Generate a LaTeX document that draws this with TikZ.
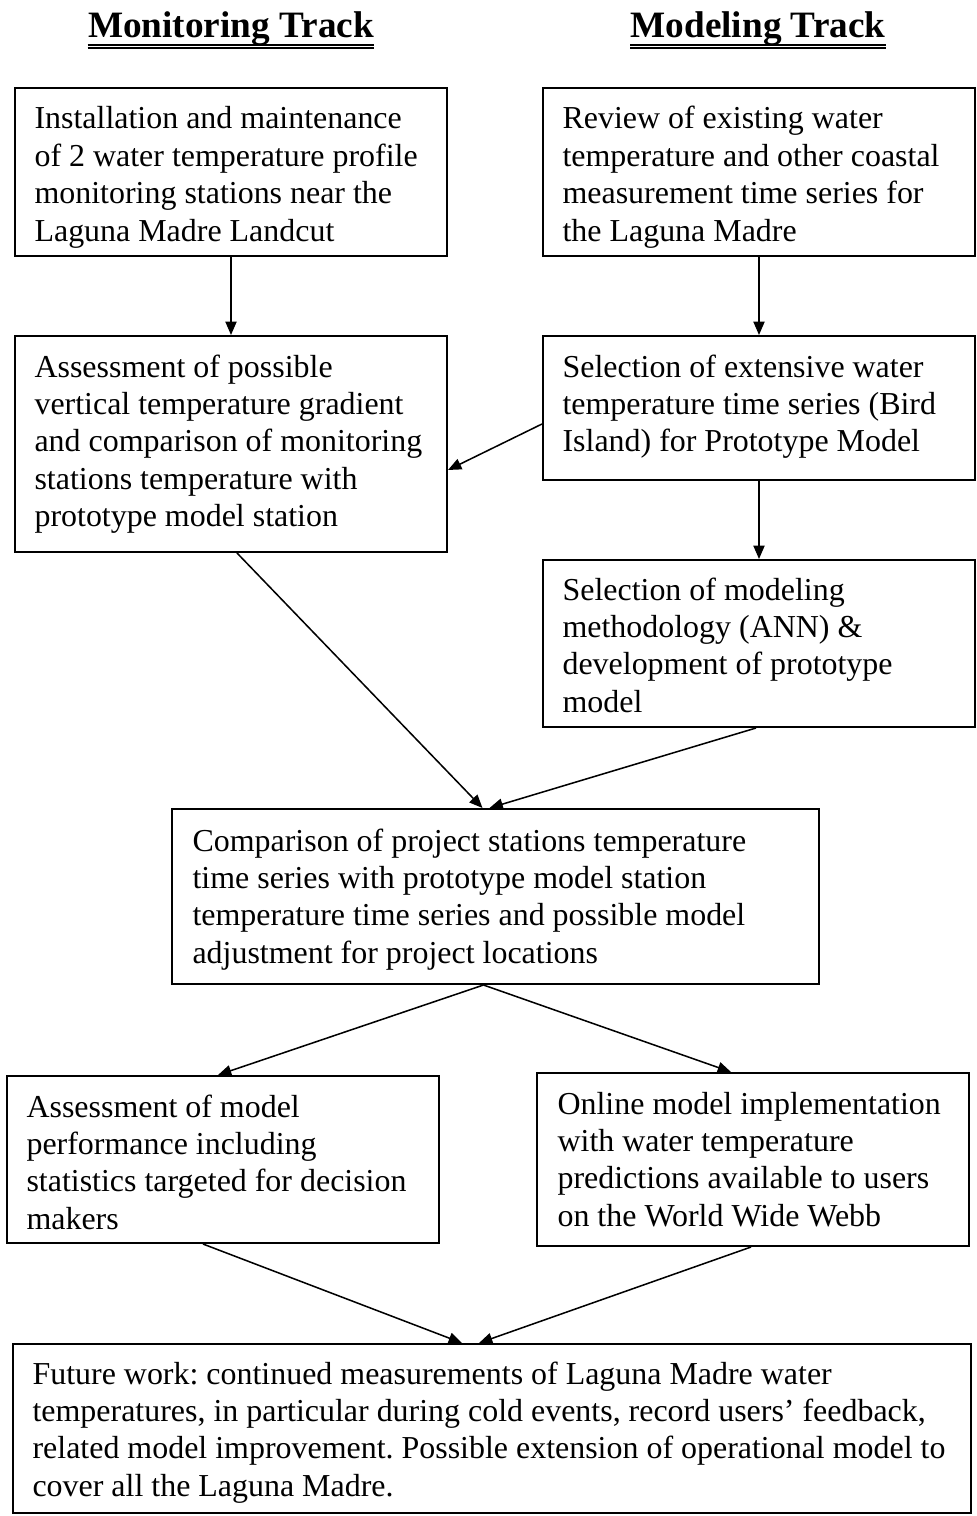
\documentclass[tikz,border=0pt]{standalone}
\usepackage{fontspec}
\setmainfont{Liberation Serif}
\usetikzlibrary{arrows.meta,calc,fit}
\frenchspacing
\newcommand\boxlines[1]{\begin{tabular}[t]{@{}l@{}}#1\end{tabular}}
\begin{document}
\begin{tikzpicture}[x=0.36pt,y=-0.36pt,
  box/.style={draw, line width=0.72pt, inner sep=0pt, rectangle},
  txt/.style={inner sep=0pt, anchor=base west, font=\fontsize{11.5}{13.45}\selectfont},
  arr/.style={line width=0.55pt, -{Triangle[length=4.8pt,width=4pt]}},
  ttl/.style={inner sep=0pt, anchor=base, font=\fontsize{13.4}{16}\selectfont\bfseries},
  uline/.style={line width=0.6pt}]
\useasboundingbox (0,0) rectangle (976,1516);

% titles
\node[ttl] (h1) at (231,38) {Monitoring Track};
\node[ttl] (h2) at (758,38) {Modeling Track};
\draw[uline] ($(h1.base west)+(0,7)$) -- ($(h1.base east)+(0,7)$);
\draw[uline,line width=0.4pt] ($(h1.base west)+(0,10)$) -- ($(h1.base east)+(0,10)$);
\draw[uline] ($(h2.base west)+(0,7)$) -- ($(h2.base east)+(0,7)$);
\draw[uline,line width=0.4pt] ($(h2.base west)+(0,10)$) -- ($(h2.base east)+(0,10)$);

% boxes
\node[box, fit={(15,88) (447,256)}] (b1) {};
\node[box, fit={(543,88) (975,256)}] (b2) {};
\node[box, fit={(15,336) (447,552)}] (b3) {};
\node[box, fit={(543,336) (975,480)}] (b4) {};
\node[box, fit={(543,560) (975,727)}] (b5) {};
\node[box, fit={(172,809) (819,984)}] (b6) {};
\node[box, fit={(7,1076) (439,1243)}] (b7) {};
\node[box, fit={(537,1073) (969,1246)}] (b8) {};
\node[box, fit={(13,1344) (971,1513)}] (b9) {};

% texts
\node[txt] (t1) at ($(b1.north west)+(20,42)$) {\boxlines{Installation and maintenance\\of 2 water temperature profile\\monitoring stations near the\\Laguna Madre Landcut}};
\node[txt] (t2) at ($(b2.north west)+(20,42)$) {\boxlines{Review of existing water\\temperature and other coastal\\measurement time series for\\the Laguna Madre}};
\node[txt] (t3) at ($(b3.north west)+(20,42)$) {\boxlines{Assessment of possible\\vertical temperature gradient\\and comparison of monitoring\\stations temperature with\\prototype model station}};
\node[txt] (t4) at ($(b4.north west)+(20,42)$) {\boxlines{Selection of extensive water\\temperature time series (Bird\\Island) for Prototype Model}};
\node[txt] (t5) at ($(b5.north west)+(20,41)$) {\boxlines{Selection of modeling\\methodology (ANN) \&\\development of prototype\\model}};
\node[txt] (t6) at ($(b6.north west)+(21,43)$) {\boxlines{Comparison of project stations temperature\\time series with prototype model station\\temperature time series and possible model\\adjustment for project locations}};
\node[txt] (t7) at ($(b7.north west)+(20,42)$) {\boxlines{Assessment of model\\performance including\\statistics targeted for decision\\makers}};
\node[txt] (t8) at ($(b8.north west)+(21,42)$) {\boxlines{Online model implementation\\with water temperature\\predictions available to users\\on the World Wide Webb}};
\node[txt] (t9) at ($(b9.north west)+(20,41)$) {\boxlines{Future work: continued measurements of Laguna Madre water\\temperatures, in particular during cold events, record users’ feedback,\\related model improvement. Possible extension of operational model to\\cover all the Laguna Madre.}};

% connectors
\draw[arr] (b1.south) -- (b3.north);
\draw[arr] (b2.south) -- (b4.north);
\draw[arr] ($(b4.west)+(0,16)$) -- ($(b3.east)+(0,26)$);
\draw[arr] (b4.south) -- (b5.north);
\draw[arr] ($(b3.south)+(6,0)$) -- ($(b6.north)+(-13,0)$);
\draw[arr] ($(b5.south)+(-3,0)$) -- ($(b6.north)+(-6,0)$);
\draw[arr] ($(b6.south)+(-12,0)$) -- ($(b7.north)+(-5,0)$);
\draw[arr] ($(b6.south)+(-12,0)$) -- ($(b8.north)+(-22,0)$);
\draw[arr] ($(b7.south)+(-20,0)$) -- ($(b9.north)+(-30,0)$);
\draw[arr] ($(b8.south)+(-2,0)$) -- ($(b9.north)+(-13,0)$);
\end{tikzpicture}
\end{document}
